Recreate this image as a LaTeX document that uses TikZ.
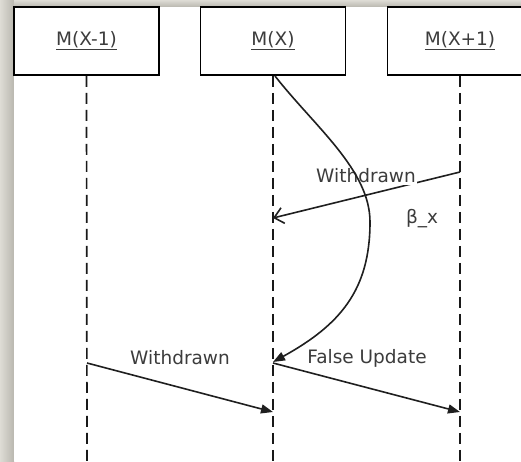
\documentclass[tikz,border=0pt]{standalone}
\usepackage{fontspec}
\setmainfont{DejaVu Sans}
\usetikzlibrary{arrows.meta}

\definecolor{frameL}{HTML}{DEDCD5}
\definecolor{frameD}{HTML}{B9B7AF}
\definecolor{inkgray}{HTML}{3C3C3C}

\begin{document}
\begin{tikzpicture}[x=1pt,y=-1pt,
  lifebox/.style={draw=black, line width=1.8pt, fill=white, minimum width=145pt,
    minimum height=68pt, inner sep=0pt, text=inkgray,
    font=\fontsize{18.5}{21}\selectfont},
  lifeline/.style={draw=black!90, line width=1.7pt, dash pattern=on 11pt off 6pt},
  msg/.style={draw=black!88, line width=1.6pt, -{Triangle[length=12pt,width=9pt]}},
  openmsg/.style={draw=black!88, line width=1.6pt, -{Straight Barb[length=9pt,width=16pt]}},
  lbl/.style={text=inkgray, font=\fontsize{18.5}{21}\selectfont, inner sep=1.5pt},
]
\useasboundingbox (0,0) rectangle (521,461);
\clip (0,0) rectangle (521,461);

% frame shadow and page
\shade[left color=frameL, right color=frameD] (0,0) rectangle (14,461);
\shade[top color=frameL, bottom color=frameD] (14,0) rectangle (521,7);
\fill[white] (14,7) rectangle (521,461);

% lifeline heads
\node[lifebox] (m1) at (86.5,41) {\underline{M(X-1)}};
\node[lifebox] (m2) at (273,41)  {\underline{M(X)}};
\node[lifebox] (m3) at (460,41)  {\underline{M(X+1)}};

% lifeline ends
\coordinate (e1) at (87,461);
\coordinate (e2) at (273,461);
\coordinate (e3) at (460,461);
\draw[lifeline] (m1.south) -- (e1);
\draw[lifeline] (m2.south) -- (e2);
\draw[lifeline] (m3.south) -- (e3);

% message end points on the lifelines
\coordinate (w1s) at (460,172);
\coordinate (w1e) at (273,218);
\coordinate (cs)  at (275,76);
\coordinate (cm)  at (370,222);
\coordinate (ce)  at (273,362);
\coordinate (w2s) at (87,363);
\coordinate (w2e) at (273,412);
\coordinate (fus) at (273,363);
\coordinate (fue) at (460,412);

% withdrawal from M(X+1)
\draw[openmsg] (w1s) -- (w1e);
\node[lbl, fill=white] (lw1) at (366,176) {Withdrawn};

% delay curve
\draw[msg] (cs) .. controls (315,127) and (370,170) .. (cm)
                .. controls (370,290) and (340,325) .. (ce);
\node[lbl] (lb) at (422,219) {β\_x};

% lower messages
\draw[msg] (w2s) -- (w2e);
\node[lbl] (lw2) at (180,358) {Withdrawn};
\draw[msg] (fus) -- (fue);
\node[lbl] (lfu) at (367,358) {False Update};
\end{tikzpicture}
\end{document}
